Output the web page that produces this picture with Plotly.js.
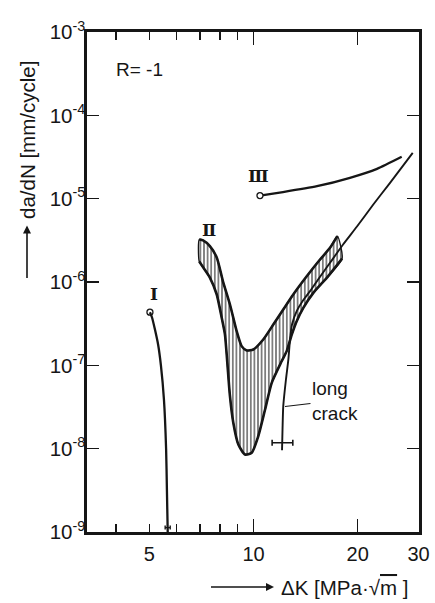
<!DOCTYPE html>
<html>
<head>
<meta charset="utf-8">
<script src="https://cdn.plot.ly/plotly-3.0.1.min.js"></script>
<style>html,body{margin:0;padding:0;background:#fff;}#chart{width:435px;height:603px;}</style>
</head>
<body>
<div id="chart"></div>
<script>
// ---- data (ΔK in MPa·√m, da/dN in mm/cycle) ----
var curveI_x = [5.02, 5.09, 5.19, 5.30, 5.40, 5.51, 5.59, 5.62, 5.65];
var curveI_y = [4.34e-7, 3.75e-7, 2.69e-7, 1.78e-7, 1.0e-7, 3.89e-8, 1.0e-8, 3.24e-9, 1.0e-9];
var curveI_endX = [5.65];
var curveI_endY = [1.13e-9];
var curveI_endErr = [0.095];

var bandUpper_x = [6.97, 7.15, 7.48, 7.83, 8.16, 8.55, 8.94, 9.24, 9.56, 9.99, 10.67, 11.41, 12.19, 13.03, 14.25, 15.57, 16.64, 17.47];
var bandUpper_y = [3.24e-6, 3.15e-6, 2.69e-6, 1.97e-6, 1.02e-6, 5.37e-7, 2.57e-7, 1.70e-7, 1.51e-7, 1.55e-7, 2.04e-7, 3.09e-7, 4.68e-7, 7.08e-7, 1.17e-6, 1.86e-6, 2.57e-6, 3.55e-6];
var bandLower_x = [6.97, 7.16, 7.48, 7.83, 8.09, 8.27, 8.40, 8.55, 8.74, 9.04, 9.45, 9.88, 10.32, 10.80, 11.29, 12.05, 12.47, 12.90, 13.33, 13.93, 14.89, 16.28, 18.03];
var bandLower_y = [1.76e-6, 1.49e-6, 1.13e-6, 7.08e-7, 3.75e-7, 2.34e-7, 1.08e-7, 4.26e-8, 2.06e-8, 1.12e-8, 8.51e-9, 8.91e-9, 1.41e-8, 2.95e-8, 6.17e-8, 1.11e-7, 1.48e-7, 2.34e-7, 3.39e-7, 4.90e-7, 7.41e-7, 1.12e-6, 1.91e-6];

var curveIII_x = [10.44, 12.17, 15.26, 19.0, 22.75, 26.81];
var curveIII_y = [1.09e-5, 1.20e-5, 1.41e-5, 1.78e-5, 2.28e-5, 3.18e-5];

var longCrack_x = [12.09, 12.13, 12.19, 12.41, 12.61, 12.75, 12.92, 13.33, 13.90, 14.57, 15.37, 16.64, 18.15, 19.91, 22.19, 24.81, 28.85];
var longCrack_y = [9.58e-9, 1.70e-8, 3.24e-8, 6.76e-8, 1.17e-7, 2.04e-7, 3.09e-7, 4.47e-7, 6.0e-7, 7.76e-7, 1.07e-6, 1.70e-6, 2.82e-6, 4.63e-6, 8.51e-6, 1.55e-5, 3.55e-5];
var longCrack_endX = [12.13];
var longCrack_endY = [1.18e-8];
var longCrack_errPlus = [0.86];
var longCrack_errMinus = [0.81];

var xTickVals = [5, 10, 20, 30];
var xTickText = ['5', '10', '20', '30'];
var xLongTickVals = [10, 20];
var xShortTickVals = [4, 6, 7, 8, 9];
var yTickVals = [1e-9, 1e-8, 1e-7, 1e-6, 1e-5, 1e-4, 1e-3];
var yTickText = ['10<sup>-9</sup>', '10<sup>-8</sup>', '10<sup>-7</sup>', '10<sup>-6</sup>', '10<sup>-5</sup>', '10<sup>-4</sup>', '10<sup>-3</sup>'];

// ---- build ----
var INK = '#161616';
var bandPolyX = bandUpper_x.concat(bandLower_x.slice().reverse(), [bandUpper_x[0]]);
var bandPolyY = bandUpper_y.concat(bandLower_y.slice().reverse(), [bandUpper_y[0]]);

var traces = [
  { x: bandPolyX, y: bandPolyY, mode: 'lines', fill: 'toself', fillcolor: 'white',
    fillpattern: { shape: '|', fgcolor: INK, bgcolor: 'white', size: 3.6, solidity: 0.28 },
    line: { color: INK, width: 1.4, shape: 'spline', smoothing: 0.6 }, hoverinfo: 'skip' },
  { x: bandUpper_x, y: bandUpper_y, mode: 'lines', line: { color: INK, width: 2.6, shape: 'spline', smoothing: 0.6 } },
  { x: bandLower_x, y: bandLower_y, mode: 'lines', line: { color: INK, width: 2.6, shape: 'spline', smoothing: 0.6 } },
  { x: longCrack_x, y: longCrack_y, xaxis: 'x2', mode: 'lines', line: { color: INK, width: 1.9, shape: 'spline', smoothing: 0.6 } },
  { x: longCrack_endX, y: longCrack_endY, mode: 'markers', marker: { size: 0.1, color: INK },
    error_x: { type: 'data', symmetric: false, array: longCrack_errPlus, arrayminus: longCrack_errMinus, color: INK, thickness: 1.6, width: 3 } },
  { x: curveI_x, y: curveI_y, xaxis: 'x3', mode: 'lines', line: { color: INK, width: 2.3, shape: 'spline', smoothing: 0.6 } },
  { x: curveI_endX, y: curveI_endY, mode: 'markers', marker: { size: 0.1, color: INK },
    error_x: { type: 'data', array: curveI_endErr, color: INK, thickness: 1.4, width: 2 } },
  { x: curveI_x.slice(0, 1), y: curveI_y.slice(0, 1), mode: 'markers',
    marker: { symbol: 'circle', size: 6, color: 'white', line: { color: INK, width: 1.3 } } },
  { x: curveIII_x, y: curveIII_y, mode: 'lines', line: { color: INK, width: 2.3, shape: 'spline', smoothing: 0.6 } },
  { x: curveIII_x.slice(0, 1), y: curveIII_y.slice(0, 1), mode: 'markers',
    marker: { symbol: 'circle', size: 6, color: 'white', line: { color: INK, width: 1.3 } } }
];

var L = 87, R = 16, T = 32, B = 71;
var W = 435, H = 603;
var pw = W - L - R, ph = H - T - B;
function px2paperX(px) { return (px - L) / pw; }
function py2paperY(py) { return (T + ph - py) / ph; }

var textFont = { family: 'Liberation Sans, Arial, sans-serif', size: 20.5, color: INK };
var XRANGE = [0.5188, 1.4783];

var layout = {
  width: W, height: H,
  margin: { l: L, r: R, t: T, b: B },
  paper_bgcolor: 'white', plot_bgcolor: 'white',
  showlegend: false,
  xaxis: {
    type: 'log', range: XRANGE,
    tickmode: 'array', tickvals: xTickVals, ticktext: xTickText,
    ticks: 'inside', ticklen: 8, tickwidth: 1.4, tickcolor: INK,
    showline: true, linewidth: 2.6, linecolor: INK, mirror: 'ticks',
    showgrid: false, zeroline: false, ticklabelstandoff: 2,
    tickfont: { family: 'Liberation Sans Narrow, Arial Narrow, sans-serif', size: 20, color: INK }
  },
  xaxis2: {
    type: 'log', range: XRANGE, overlaying: 'x', anchor: 'y', side: 'bottom',
    tickmode: 'array', tickvals: xLongTickVals, showticklabels: false,
    ticks: 'inside', ticklen: 13, tickwidth: 1.4, tickcolor: INK,
    showline: false, mirror: 'ticks', showgrid: false, zeroline: false
  },
  xaxis3: {
    type: 'log', range: XRANGE, overlaying: 'x', anchor: 'y', side: 'bottom',
    tickmode: 'array', tickvals: xShortTickVals, showticklabels: false,
    ticks: 'inside', ticklen: 8, tickwidth: 1.4, tickcolor: INK,
    showline: false, mirror: 'ticks', showgrid: false, zeroline: false
  },
  yaxis: {
    type: 'log', range: [-9, -3],
    tickmode: 'array', tickvals: yTickVals, ticktext: yTickText,
    ticks: 'inside', ticklen: 12, tickwidth: 1.4, tickcolor: INK,
    showline: true, linewidth: 2.6, linecolor: INK, mirror: 'ticks',
    showgrid: false, zeroline: false, ticklabelstandoff: -5,
    tickfont: { family: 'Liberation Sans Narrow, Arial Narrow, sans-serif', size: 20.5, color: INK }
  },
  annotations: [
    // y-axis title; its arrow starts at the tail and points up into the text
    { xref: 'paper', yref: 'paper', x: px2paperX(27), y: py2paperY(278), ax: 0, ay: -138,
      text: 'da/dN [mm/cycle]', textangle: -90, font: textFont,
      showarrow: true, arrowside: 'start', startarrowhead: 2, startarrowsize: 1, arrowwidth: 1.6,
      arrowcolor: INK, startstandoff: 5, standoff: 0 },
    // x-axis title; arrow from tail pointing right into the text
    { xref: 'paper', yref: 'paper', x: px2paperX(211), y: py2paperY(587), ax: 133, ay: 0,
      text: 'ΔK [MPa·√<span style="text-decoration:overline">m</span> ]', font: textFont,
      showarrow: true, arrowside: 'start', startarrowhead: 2, startarrowsize: 1, arrowwidth: 1.6,
      arrowcolor: INK, startstandoff: 5, standoff: 0 },
    // R = -1
    { xref: 'paper', yref: 'paper', x: px2paperX(114), y: py2paperY(70), text: 'R= -1',
      showarrow: false, xanchor: 'left', yanchor: 'middle', font: { family: 'Liberation Sans, Arial, sans-serif', size: 19, color: INK } },
    // roman numerals
    { xref: 'paper', yref: 'paper', x: px2paperX(154), y: py2paperY(294), text: '<b>Ⅰ</b>', showarrow: false,
      xanchor: 'center', yanchor: 'middle', font: { family: 'DejaVu Serif', size: 17, color: INK } },
    { xref: 'paper', yref: 'paper', x: px2paperX(208.5), y: py2paperY(229.5), text: '<b>Ⅱ</b>', showarrow: false,
      xanchor: 'center', yanchor: 'middle', font: { family: 'DejaVu Serif', size: 17, color: INK } },
    { xref: 'paper', yref: 'paper', x: px2paperX(258), y: py2paperY(176), text: '<b>Ⅲ</b>', showarrow: false,
      xanchor: 'center', yanchor: 'middle', font: { family: 'DejaVu Serif', size: 17, color: INK } },
    // long crack label with leader
    { xref: 'x', yref: 'y', x: Math.log10(12.33), y: Math.log10(3.2e-8), ax: 50, ay: -6,
      text: 'long<br>crack', align: 'left', showarrow: true, arrowhead: 0, arrowwidth: 1.1, arrowcolor: INK,
      font: { family: 'Liberation Sans, Arial, sans-serif', size: 19, color: INK } }
  ]
};

Plotly.newPlot('chart', traces, layout, { staticPlot: true, displayModeBar: false });
</script>
</body>
</html>
